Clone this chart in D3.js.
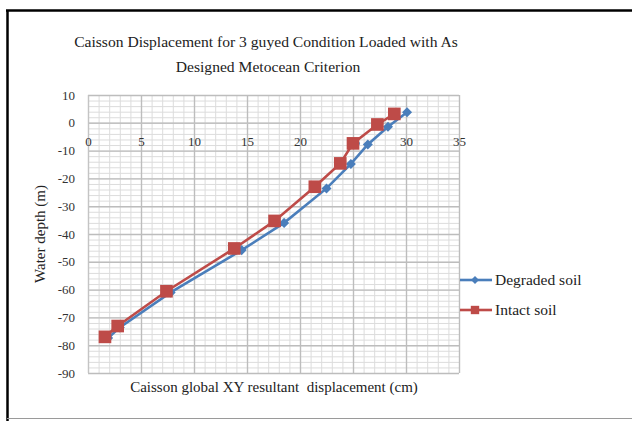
<!DOCTYPE html>
<html>
<head>
<meta charset="utf-8">
<script src="https://cdn.jsdelivr.net/npm/d3@7"></script>
<style>
  body { margin: 0; background: #fff; }
  svg { display: block; font-family: "Liberation Serif", "Times New Roman", serif; }
  svg text { font-family: "Liberation Serif", "Times New Roman", serif; }
</style>
</head>
<body>
<div id="container"></div>
<script>
// values
const degradedX = [30.1, 28.3, 26.4, 24.8, 22.5, 18.5, 14.5, 7.8, 3.0, 1.9];
const degradedY = [3.8, -1.4, -7.8, -14.8, -23.6, -36.0, -45.8, -61.0, -73.6, -77.4];
const intactX = [28.9, 27.3, 25.0, 23.8, 21.4, 17.6, 13.8, 7.4, 2.8, 1.6];
const intactY = [3.2, -0.6, -7.4, -14.6, -23.0, -35.3, -45.2, -60.6, -73.1, -77.0];
const xTicks = [0, 5, 10, 15, 20, 25, 30, 35];
const yTicks = [10, 0, -10, -20, -30, -40, -50, -60, -70, -80, -90];
const seriesNames = ["Degraded soil", "Intact soil"];

const w = 632, h = 421;
const blue = "#4a7ebb", red = "#be4b48";
const fmt = d => String(d); // plain hyphen minus, as in the picture

const svg = d3.select("#container").append("svg")
  .attr("width", w).attr("height", h);

// frame
svg.append("line").attr("x1", 6).attr("x2", w).attr("y1", 10.5).attr("y2", 10.5)
  .attr("stroke", "#000").attr("stroke-width", 2.5);
svg.append("line").attr("x1", 7.5).attr("x2", 7.5).attr("y1", 10).attr("y2", h)
  .attr("stroke", "#000").attr("stroke-width", 2.5);
svg.append("line").attr("x1", 7).attr("x2", w).attr("y1", 418.5).attr("y2", 418.5)
  .attr("stroke", "#9a9a9a").attr("stroke-width", 1);

// title
const title = svg.append("text").attr("text-anchor", "middle")
  .style("font-size", "15.6px").attr("fill", "#222");
title.append("tspan").attr("x", 266).attr("y", 47)
  .text("Caisson Displacement for 3 guyed Condition Loaded with As");
title.append("tspan").attr("x", 268).attr("y", 72)
  .text("Designed Metocean Criterion");

const x = d3.scaleLinear().domain([0, 35]).range([88, 459]);
const y = d3.scaleLinear().domain([-90, 10]).range([373, 95]);

// minor grid
svg.append("g")
  .attr("transform", `translate(0, ${y(-90)})`)
  .call(d3.axisBottom(x).tickValues(d3.range(0, 36, 1)).tickSize(-(y(-90) - y(10))).tickFormat(""))
  .call(g => g.select(".domain").remove())
  .call(g => g.selectAll("line").attr("stroke", "#dcdcdc"));
svg.append("g")
  .attr("transform", `translate(${x(0)}, 0)`)
  .call(d3.axisLeft(y).tickValues(d3.range(-90, 11, 2)).tickSize(-(x(35) - x(0))).tickFormat(""))
  .call(g => g.select(".domain").remove())
  .call(g => g.selectAll("line").attr("stroke", "#dcdcdc"));

// major grid
svg.append("g")
  .attr("transform", `translate(0, ${y(-90)})`)
  .call(d3.axisBottom(x).tickValues(xTicks).tickSize(-(y(-90) - y(10))).tickFormat(""))
  .call(g => g.select(".domain").remove())
  .call(g => g.selectAll("line").attr("stroke", "#bdbdbd").attr("stroke-width", 1.4));
svg.append("g")
  .attr("transform", `translate(${x(0)}, 0)`)
  .call(d3.axisLeft(y).tickValues(yTicks).tickSize(-(x(35) - x(0))).tickFormat(""))
  .call(g => g.select(".domain").remove())
  .call(g => g.selectAll("line").attr("stroke", "#bdbdbd").attr("stroke-width", 1.4));

// y axis labels
svg.append("g")
  .attr("transform", `translate(${x(0)}, 0)`)
  .call(d3.axisLeft(y).tickValues(yTicks).tickSize(0).tickPadding(13).tickFormat(fmt))
  .call(g => g.select(".domain").attr("stroke", "#c4c4c4"))
  .call(g => g.selectAll("text").style("font-size", "13px").attr("fill", "#333"));

// x axis labels (axis crosses at y = 0, labels below)
svg.append("g")
  .attr("transform", `translate(0, ${y(0)})`)
  .call(d3.axisBottom(x).tickValues(xTicks).tickSize(0).tickPadding(14).tickFormat(fmt))
  .call(g => g.select(".domain").attr("stroke", "#c4c4c4"))
  .call(g => g.selectAll("text").style("font-size", "13px").attr("fill", "#333"));

// axis titles
svg.append("text").attr("text-anchor", "middle")
  .attr("transform", "translate(45, 234) rotate(-90)")
  .style("font-size", "15px").attr("fill", "#222")
  .text("Water depth (m)");
svg.append("text").attr("text-anchor", "middle")
  .attr("x", 274).attr("y", 392)
  .style("font-size", "15px").attr("fill", "#222")
  .text("Caisson global XY resultant\u00a0 displacement (cm)");

const line = d3.line().x(d => x(d[0])).y(d => y(d[1]));
const degraded = degradedX.map((v, i) => [v, degradedY[i]]);
const intact = intactX.map((v, i) => [v, intactY[i]]);

const diamond = d3.symbol().type(d3.symbolDiamond2).size(64);
const square = d3.symbol().type(d3.symbolSquare).size(160);

// degraded series
svg.append("path").datum(degraded).attr("d", line)
  .attr("fill", "none").attr("stroke", blue).attr("stroke-width", 2.6);
svg.selectAll(".dmark").data(degraded).enter().append("path")
  .attr("class", "dmark")
  .attr("transform", d => `translate(${x(d[0])}, ${y(d[1])})`)
  .attr("d", diamond).attr("fill", blue);

// intact series
svg.append("path").datum(intact).attr("d", line)
  .attr("fill", "none").attr("stroke", red).attr("stroke-width", 2.6);
svg.selectAll(".imark").data(intact).enter().append("path")
  .attr("class", "imark")
  .attr("transform", d => `translate(${x(d[0])}, ${y(d[1])})`)
  .attr("d", square).attr("fill", red);

// legend
const legend = svg.append("g");
const legRows = [
  { name: seriesNames[0], color: blue, sym: d3.symbol().type(d3.symbolDiamond2).size(40), y: 280 },
  { name: seriesNames[1], color: red, sym: d3.symbol().type(d3.symbolSquare).size(70), y: 310 }
];
legRows.forEach(r => {
  legend.append("line").attr("x1", 460).attr("x2", 492).attr("y1", r.y).attr("y2", r.y)
    .attr("stroke", r.color).attr("stroke-width", 2.6);
  legend.append("path").attr("transform", `translate(475, ${r.y})`)
    .attr("d", r.sym()).attr("fill", r.color);
  legend.append("text").attr("x", 495).attr("y", r.y + 5)
    .style("font-size", "15.5px").attr("fill", "#222").text(r.name);
});
</script>
</body>
</html>
